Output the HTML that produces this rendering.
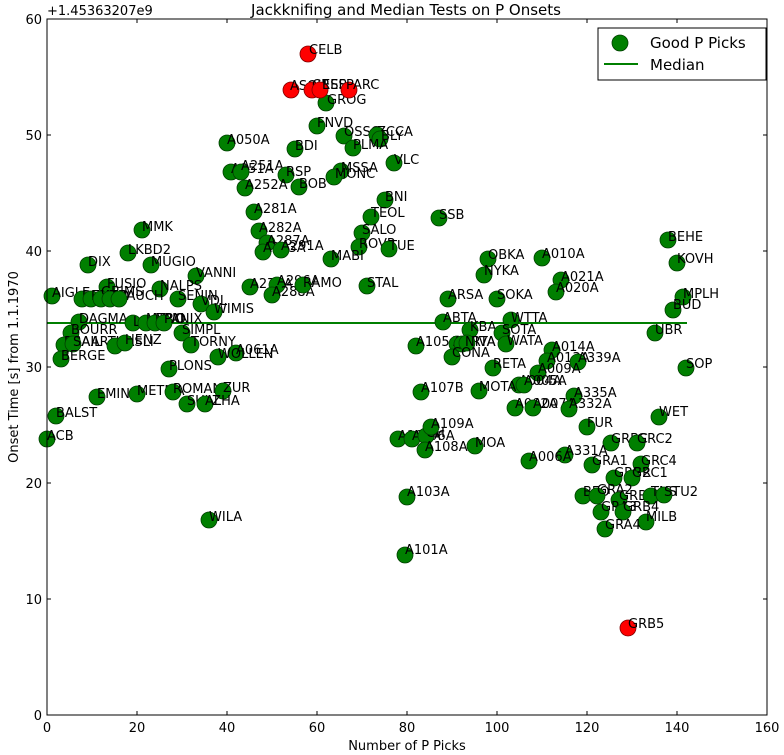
<!DOCTYPE html>
<html><head><meta charset="utf-8"><style>
html,body{margin:0;padding:0;background:#fff}
svg{display:block;font-family:"DejaVu Sans","Liberation Sans",sans-serif}
.g{fill:#007f00;stroke:#003f00;stroke-width:0.8}
.r{fill:#ff0000;stroke:#7f0000;stroke-width:0.8}
.l{font-size:13px;fill:#000}
.t{font-size:13px;fill:#000}
</style></head><body>
<svg width="784" height="755" viewBox="0 0 784 755" xmlns="http://www.w3.org/2000/svg">
<rect width="784" height="755" fill="#fff"/>
<text x="406" y="15" text-anchor="middle" style="font-size:15px">Jackknifing and Median Tests on P Onsets</text>
<text x="47" y="15" class="t">+1.45363207e9</text>
<!-- median -->
<line x1="47" y1="323" x2="687" y2="323" stroke="#007f00" stroke-width="2"/>
<!-- points -->
<g>
<circle class="g" cx="326" cy="103" r="8"/><text class="l" x="327" y="104">GROG</text>
<circle class="g" cx="317" cy="126" r="8"/><text class="l" x="317" y="127">FNVD</text>
<circle class="g" cx="344" cy="136" r="8"/><text class="l" x="344" y="136">OSSC</text>
<circle class="g" cx="377" cy="135" r="8"/><text class="l" x="377" y="136">ZCCA</text>
<circle class="g" cx="380" cy="139" r="8"/><text class="l" x="381" y="140">BLY</text>
<circle class="g" cx="353" cy="148" r="8"/><text class="l" x="353" y="149">PLMA</text>
<circle class="g" cx="227" cy="143" r="8"/><text class="l" x="227" y="144">A050A</text>
<circle class="g" cx="295" cy="149" r="8"/><text class="l" x="295" y="150">BDI</text>
<circle class="g" cx="394" cy="163" r="8"/><text class="l" x="394" y="164">VLC</text>
<circle class="g" cx="231" cy="172" r="8"/><text class="l" x="231" y="173">A051A</text>
<circle class="g" cx="241" cy="172" r="8"/><text class="l" x="241" y="170">A251A</text>
<circle class="g" cx="286" cy="175" r="8"/><text class="l" x="286" y="176">RSP</text>
<circle class="g" cx="341" cy="171" r="8"/><text class="l" x="341" y="172">MSSA</text>
<circle class="g" cx="334" cy="177" r="8"/><text class="l" x="335" y="178">MONC</text>
<circle class="g" cx="245" cy="188" r="8"/><text class="l" x="245" y="189">A252A</text>
<circle class="g" cx="299" cy="187" r="8"/><text class="l" x="299" y="188">BOB</text>
<circle class="g" cx="385" cy="200" r="8"/><text class="l" x="385" y="201">BNI</text>
<circle class="g" cx="254" cy="212" r="8"/><text class="l" x="254" y="213">A281A</text>
<circle class="g" cx="371" cy="217" r="8"/><text class="l" x="371" y="217">TEOL</text>
<circle class="g" cx="142" cy="230" r="8"/><text class="l" x="142" y="231">MMK</text>
<circle class="g" cx="259" cy="231" r="8"/><text class="l" x="259" y="232">A282A</text>
<circle class="g" cx="362" cy="233" r="8"/><text class="l" x="362" y="234">SALO</text>
<circle class="g" cx="267" cy="243" r="8"/><text class="l" x="267" y="245">A287A</text>
<circle class="g" cx="263" cy="252" r="8"/><text class="l" x="263" y="252">A283A</text>
<circle class="g" cx="281" cy="250" r="8"/><text class="l" x="281" y="250">A291A</text>
<circle class="g" cx="359" cy="247" r="8"/><text class="l" x="359" y="248">ROVR</text>
<circle class="g" cx="389" cy="249" r="8"/><text class="l" x="389" y="250">TUE</text>
<circle class="g" cx="128" cy="253" r="8"/><text class="l" x="128" y="254">LKBD2</text>
<circle class="g" cx="331" cy="259" r="8"/><text class="l" x="331" y="260">MABI</text>
<circle class="g" cx="88" cy="265" r="8"/><text class="l" x="88" y="266">DIX</text>
<circle class="g" cx="151" cy="265" r="8"/><text class="l" x="151" y="266">MUGIO</text>
<circle class="g" cx="196" cy="276" r="8"/><text class="l" x="196" y="277">VANNI</text>
<circle class="g" cx="250" cy="287" r="8"/><text class="l" x="250" y="288">A277A</text>
<circle class="g" cx="277" cy="285" r="8"/><text class="l" x="277" y="285">A296A</text>
<circle class="g" cx="272" cy="295" r="8"/><text class="l" x="272" y="296">A288A</text>
<circle class="g" cx="303" cy="285" r="8"/><text class="l" x="303" y="287">RAMO</text>
<circle class="g" cx="367" cy="286" r="8"/><text class="l" x="367" y="287">STAL</text>
<circle class="g" cx="107" cy="287" r="8"/><text class="l" x="107" y="288">FUSIO</text>
<circle class="g" cx="160" cy="289" r="8"/><text class="l" x="160" y="290">NALPS</text>
<circle class="g" cx="52" cy="296" r="8"/><text class="l" x="52" y="297">AIGLE</text>
<circle class="g" cx="82" cy="299" r="8"/><text class="l" x="82" y="300">DENEB</text>
<circle class="g" cx="91" cy="299" r="8"/><text class="l" x="91" y="300">EMBD</text>
<circle class="g" cx="101" cy="299" r="8"/><text class="l" x="101" y="296">GRIMS</text>
<circle class="g" cx="110" cy="299" r="8"/><text class="l" x="110" y="300">TRAUCH</text>
<circle class="g" cx="119" cy="299" r="8"/>
<circle class="g" cx="178" cy="299" r="8"/><text class="l" x="178" y="300">SENIN</text>
<circle class="g" cx="201" cy="304" r="8"/><text class="l" x="201" y="305">VDL</text>
<circle class="g" cx="214" cy="312" r="8"/><text class="l" x="214" y="313">WIMIS</text>
<circle class="g" cx="79" cy="322" r="8"/><text class="l" x="79" y="323">DAGMA</text>
<circle class="g" cx="133" cy="323" r="8"/><text class="l" x="133" y="326">LLS</text>
<circle class="g" cx="146" cy="323" r="8"/><text class="l" x="146" y="323">MTRO</text>
<circle class="g" cx="155" cy="323" r="8"/><text class="l" x="155" y="323">MUO</text>
<circle class="g" cx="164" cy="323" r="8"/><text class="l" x="164" y="323">PANIX</text>
<circle class="g" cx="71" cy="333" r="8"/><text class="l" x="71" y="334">BOURR</text>
<circle class="g" cx="182" cy="333" r="8"/><text class="l" x="182" y="334">SIMPL</text>
<circle class="g" cx="64" cy="345" r="8"/><text class="l" x="64" y="346">BRAIL</text>
<circle class="g" cx="73" cy="344" r="8"/><text class="l" x="73" y="346">SAARTHASLI</text>
<circle class="g" cx="115" cy="346" r="8"/>
<circle class="g" cx="125" cy="343" r="8"/><text class="l" x="125" y="344">HENZ</text>
<circle class="g" cx="191" cy="345" r="8"/><text class="l" x="191" y="346">TORNY</text>
<circle class="g" cx="236" cy="353" r="8"/><text class="l" x="236" y="354">A061A</text>
<circle class="g" cx="218" cy="357" r="8"/><text class="l" x="218" y="358">WOLLEN</text>
<circle class="g" cx="61" cy="359" r="8"/><text class="l" x="61" y="360">BERGE</text>
<circle class="g" cx="169" cy="369" r="8"/><text class="l" x="169" y="370">PLONS</text>
<circle class="g" cx="97" cy="397" r="8"/><text class="l" x="97" y="398">EMING</text>
<circle class="g" cx="137" cy="394" r="8"/><text class="l" x="137" y="395">METMA</text>
<circle class="g" cx="173" cy="392" r="8"/><text class="l" x="173" y="393">ROMAN</text>
<circle class="g" cx="223" cy="391" r="8"/><text class="l" x="223" y="392">ZUR</text>
<circle class="g" cx="187" cy="404" r="8"/><text class="l" x="187" y="405">SULZ</text>
<circle class="g" cx="205" cy="404" r="8"/><text class="l" x="205" y="405">ALHA</text>
<circle class="g" cx="56" cy="416" r="8"/><text class="l" x="56" y="417">BALST</text>
<circle class="g" cx="47" cy="439" r="8"/><text class="l" x="47" y="440">ACB</text>
<circle class="g" cx="209" cy="520" r="8"/><text class="l" x="209" y="521">WILA</text>
<circle class="g" cx="398" cy="439" r="8"/><text class="l" x="398" y="440">A102A</text>
<circle class="g" cx="412" cy="439" r="8"/><text class="l" x="412" y="440">A106A</text>
<circle class="g" cx="426" cy="436" r="8"/><text class="l" x="426" y="437">CH</text>
<circle class="g" cx="431" cy="427" r="8"/><text class="l" x="431" y="428">A109A</text>
<circle class="g" cx="425" cy="450" r="8"/><text class="l" x="425" y="451">A108A</text>
<circle class="g" cx="475" cy="446" r="8"/><text class="l" x="475" y="447">MOA</text>
<circle class="g" cx="407" cy="497" r="8"/><text class="l" x="407" y="496">A103A</text>
<circle class="g" cx="405" cy="555" r="8"/><text class="l" x="405" y="554">A101A</text>
<circle class="g" cx="439" cy="218" r="8"/><text class="l" x="439" y="219">SSB</text>
<circle class="g" cx="668" cy="240" r="8"/><text class="l" x="668" y="241">BEHE</text>
<circle class="g" cx="488" cy="259" r="8"/><text class="l" x="488" y="259">OBKA</text>
<circle class="g" cx="542" cy="258" r="8"/><text class="l" x="542" y="258">A010A</text>
<circle class="g" cx="677" cy="263" r="8"/><text class="l" x="677" y="263">KOVH</text>
<circle class="g" cx="484" cy="275" r="8"/><text class="l" x="484" y="275">NYKA</text>
<circle class="g" cx="561" cy="280" r="8"/><text class="l" x="561" y="281">A021A</text>
<circle class="g" cx="556" cy="292" r="8"/><text class="l" x="556" y="292">A020A</text>
<circle class="g" cx="448" cy="299" r="8"/><text class="l" x="448" y="299">ARSA</text>
<circle class="g" cx="497" cy="299" r="8"/><text class="l" x="497" y="299">SOKA</text>
<circle class="g" cx="683" cy="297" r="8"/><text class="l" x="683" y="298">MPLH</text>
<circle class="g" cx="673" cy="310" r="8"/><text class="l" x="673" y="309">BUD</text>
<circle class="g" cx="443" cy="322" r="8"/><text class="l" x="443" y="322">ABTA</text>
<circle class="g" cx="511" cy="320" r="8"/><text class="l" x="511" y="322">WTTA</text>
<circle class="g" cx="470" cy="330" r="8"/><text class="l" x="470" y="331">KBA</text>
<circle class="g" cx="502" cy="333" r="8"/><text class="l" x="502" y="334">SOTA</text>
<circle class="g" cx="655" cy="333" r="8"/><text class="l" x="655" y="334">UBR</text>
<circle class="g" cx="416" cy="346" r="8"/><text class="l" x="416" y="346">A105A</text>
<circle class="g" cx="457" cy="344" r="8"/><text class="l" x="453" y="346">AGRTA</text>
<circle class="g" cx="462" cy="344" r="8"/>
<circle class="g" cx="467" cy="343" r="8"/><text class="l" x="465" y="346">NIVA</text>
<circle class="g" cx="506" cy="344" r="8"/><text class="l" x="507" y="345">WATA</text>
<circle class="g" cx="552" cy="350" r="8"/><text class="l" x="552" y="351">A014A</text>
<circle class="g" cx="452" cy="357" r="8"/><text class="l" x="452" y="357">CONA</text>
<circle class="g" cx="547" cy="361" r="8"/><text class="l" x="547" y="362">A013A</text>
<circle class="g" cx="578" cy="362" r="8"/><text class="l" x="578" y="362">A339A</text>
<circle class="g" cx="686" cy="368" r="8"/><text class="l" x="686" y="368">SOP</text>
<circle class="g" cx="493" cy="368" r="8"/><text class="l" x="493" y="368">RETA</text>
<circle class="g" cx="538" cy="373" r="8"/><text class="l" x="538" y="373">A009A</text>
<circle class="g" cx="519" cy="385" r="8"/><text class="l" x="519" y="385">A004A</text>
<circle class="g" cx="524" cy="385" r="8"/><text class="l" x="524" y="385">A005A</text>
<circle class="g" cx="421" cy="392" r="8"/><text class="l" x="421" y="392">A107B</text>
<circle class="g" cx="479" cy="391" r="8"/><text class="l" x="479" y="391">MOTA</text>
<circle class="g" cx="574" cy="396" r="8"/><text class="l" x="574" y="397">A335A</text>
<circle class="g" cx="515" cy="408" r="8"/><text class="l" x="515" y="408">A002A</text>
<circle class="g" cx="533" cy="408" r="8"/><text class="l" x="533" y="408">A007A</text>
<circle class="g" cx="569" cy="409" r="8"/><text class="l" x="569" y="408">A332A</text>
<circle class="g" cx="659" cy="417" r="8"/><text class="l" x="659" y="416">WET</text>
<circle class="g" cx="587" cy="427" r="8"/><text class="l" x="587" y="427">FUR</text>
<circle class="g" cx="611" cy="443" r="8"/><text class="l" x="611" y="443">GRBC</text>
<circle class="g" cx="637" cy="443" r="8"/><text class="l" x="637" y="443">GRC2</text>
<circle class="g" cx="565" cy="455" r="8"/><text class="l" x="565" y="455">A331A</text>
<circle class="g" cx="529" cy="461" r="8"/><text class="l" x="529" y="461">A006A</text>
<circle class="g" cx="592" cy="465" r="8"/><text class="l" x="592" y="465">GRA1</text>
<circle class="g" cx="641" cy="464" r="8"/><text class="l" x="641" y="465">GRC4</text>
<circle class="g" cx="614" cy="478" r="8"/><text class="l" x="614" y="477">GRB2</text>
<circle class="g" cx="632" cy="478" r="8"/><text class="l" x="632" y="477">GRC1</text>
<circle class="g" cx="583" cy="496" r="8"/><text class="l" x="583" y="496">BFO</text>
<circle class="g" cx="597" cy="496" r="8"/><text class="l" x="597" y="494">GRA2</text>
<circle class="g" cx="619" cy="500" r="8"/><text class="l" x="619" y="500">GRB3</text>
<circle class="g" cx="651" cy="496" r="8"/><text class="l" x="651" y="496">TNS</text>
<circle class="g" cx="664" cy="495" r="8"/><text class="l" x="664" y="496">STU2</text>
<circle class="g" cx="601" cy="512" r="8"/><text class="l" x="601" y="511">GRA3</text>
<circle class="g" cx="623" cy="512" r="8"/><text class="l" x="623" y="511">GRB4</text>
<circle class="g" cx="646" cy="522" r="8"/><text class="l" x="646" y="521">MILB</text>
<circle class="g" cx="605" cy="529" r="8"/><text class="l" x="605" y="529">GRA4</text>
</g>
<g>
<circle class="r" cx="308" cy="54" r="8"/><text class="l" x="309" y="54">CELB</text>
<circle class="r" cx="291" cy="90" r="8"/><text class="l" x="290" y="90">ASQU</text>
<circle class="r" cx="312" cy="90" r="8"/><text class="l" x="312" y="89">CRES</text>
<circle class="r" cx="320" cy="90" r="8"/><text class="l" x="322" y="89">ESB</text>
<circle class="r" cx="349" cy="90" r="8"/><text class="l" x="346" y="89">PARC</text>
<circle class="r" cx="628" cy="628" r="8"/><text class="l" x="628" y="628">GRB5</text>
</g>
<!-- axes frame -->
<rect x="47" y="19" width="720" height="696" fill="none" stroke="#000" stroke-width="1"/>
<g stroke="#000" stroke-width="1">
<line x1="47" y1="715" x2="47" y2="711"/><line x1="137" y1="715" x2="137" y2="711"/><line x1="227" y1="715" x2="227" y2="711"/><line x1="317" y1="715" x2="317" y2="711"/><line x1="407" y1="715" x2="407" y2="711"/><line x1="497" y1="715" x2="497" y2="711"/><line x1="587" y1="715" x2="587" y2="711"/><line x1="677" y1="715" x2="677" y2="711"/>
<line x1="137" y1="19" x2="137" y2="23"/><line x1="227" y1="19" x2="227" y2="23"/><line x1="317" y1="19" x2="317" y2="23"/><line x1="407" y1="19" x2="407" y2="23"/><line x1="497" y1="19" x2="497" y2="23"/><line x1="587" y1="19" x2="587" y2="23"/><line x1="677" y1="19" x2="677" y2="23"/>
<line x1="47" y1="599" x2="51" y2="599"/><line x1="47" y1="483" x2="51" y2="483"/><line x1="47" y1="367" x2="51" y2="367"/><line x1="47" y1="251" x2="51" y2="251"/><line x1="47" y1="135" x2="51" y2="135"/>
<line x1="767" y1="599" x2="763" y2="599"/><line x1="767" y1="483" x2="763" y2="483"/><line x1="767" y1="367" x2="763" y2="367"/><line x1="767" y1="251" x2="763" y2="251"/><line x1="767" y1="135" x2="763" y2="135"/>
</g>
<g class="t" text-anchor="middle">
<text x="47" y="732">0</text><text x="137" y="732">20</text><text x="227" y="732">40</text><text x="317" y="732">60</text><text x="407" y="732">80</text><text x="497" y="732">100</text><text x="587" y="732">120</text><text x="677" y="732">140</text><text x="767" y="732">160</text>
</g>
<g class="t" text-anchor="end">
<text x="42" y="720">0</text><text x="42" y="604">10</text><text x="42" y="488">20</text><text x="42" y="372">30</text><text x="42" y="256">40</text><text x="42" y="140">50</text><text x="42" y="24">60</text>
</g>
<text x="407" y="750" text-anchor="middle" class="t">Number of P Picks</text>
<text transform="translate(18,367) rotate(-90)" text-anchor="middle" class="t">Onset Time [s] from 1.1.1970</text>
<!-- legend -->
<rect x="598" y="28" width="168" height="52" fill="#fff" stroke="#000" stroke-width="1"/>
<circle class="g" cx="620" cy="43" r="8"/>
<text x="650" y="48" style="font-size:15px">Good P Picks</text>
<line x1="604" y1="64" x2="638" y2="64" stroke="#007f00" stroke-width="2"/>
<text x="650" y="70" style="font-size:15px">Median</text>
</svg>
</body></html>
